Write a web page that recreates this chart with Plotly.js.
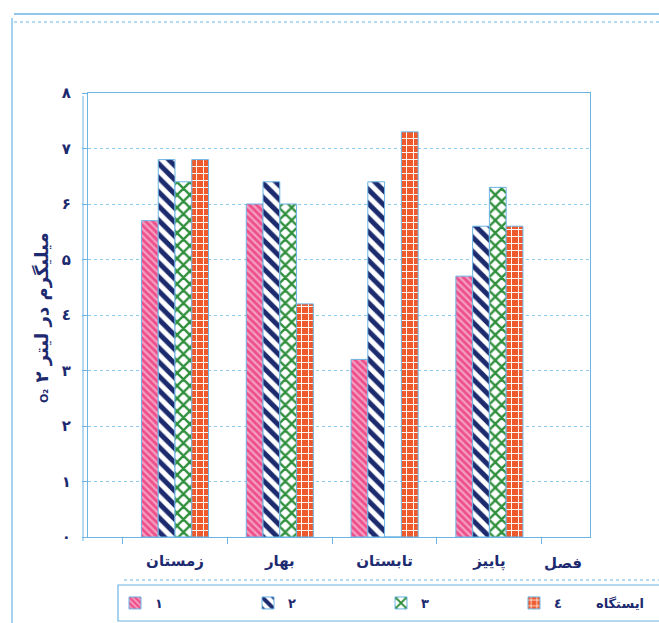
<!DOCTYPE html>
<html>
<head>
<meta charset="utf-8">
<script src="https://cdn.plot.ly/plotly-3.0.1.min.js"></script>
<style>
  html, body { margin: 0; padding: 0; background: #ffffff; }
  #chart { width: 659px; height: 623px; }
</style>
</head>
<body>
<div id="chart"></div>
<script>
// Seasons (category axis) and the four sampling stations
const seasons = ['زمستان', 'بهار', 'تابستان', 'پاییز'];
const stationNames = ['۱', '۲', '۳', '٤'];

// Dissolved oxygen, mg/L, per station and season
const station1 = [5.7, 6.0, 3.2, 4.7];
const station2 = [6.8, 6.4, 6.4, 5.6];
const station3 = [6.4, 6.0, 0, 6.3];
const station4 = [6.8, 4.2, 7.3, 5.6];

const yTickVals = [0, 1, 2, 3, 4, 5, 6, 7, 8];
const yTickText = ['۰', '۱', '۲', '۳', '٤', '۵', '۶', '۷', '۸'];

const ink = '#1d2a70';
const frameBlue = '#6cb4e4';
const gridBlue = '#8ccaee';
const faFont = 'DejaVu Sans, Noto Sans, sans-serif';

// pattern styles for each station
const styles = [
  { bg: '#f4a0c0', fg: '#ee4f8c', shape: '\\', size: 5, solidity: 0.55 },
  { bg: '#ffffff', fg: '#1c2b6e', shape: '\\', size: 10, solidity: 0.5 },
  { bg: '#ffffff', fg: '#2f8f3c', shape: 'x', size: 9, solidity: 0.45 },
  { bg: '#ef5a2c', fg: '#ffffff', shape: '+', size: 7, solidity: 0.25 }
];

const series = [station1, station2, station3, station4];
const traces = series.map((vals, i) => ({
  type: 'bar',
  x: seasons,
  y: vals,
  name: stationNames[i],
  marker: {
    color: styles[i].bg,
    line: { color: frameBlue, width: 1 },
    pattern: {
      shape: styles[i].shape,
      fgcolor: styles[i].fg,
      bgcolor: styles[i].bg,
      fgopacity: 1,
      size: styles[i].size,
      solidity: styles[i].solidity,
      fillmode: 'overlay'
    }
  },
  hoverinfo: 'x+y'
}));

// plot area in pixels: x 88..590, y 93..537
const W = 659, H = 623;
const L = 88, R = 590, T = 93, B = 537;
const px = v => (v - L) / (R - L);
const py = v => (B - v) / (B - T);

const layout = {
  width: W,
  height: H,
  margin: { l: L, r: W - R, t: T, b: H - B, autoexpand: false },
  paper_bgcolor: '#ffffff',
  plot_bgcolor: '#ffffff',
  barmode: 'group',
  bargap: 0.36,
  bargroupgap: 0,
  showlegend: true,
  legend: {
    orientation: 'h',
    x: px(647),
    xanchor: 'right',
    y: py(603),
    yanchor: 'middle',
    entrywidth: 88,
    entrywidthmode: 'pixels',
    font: { family: faFont, size: 13, color: ink, weight: 'bold' },
    bgcolor: 'rgba(0,0,0,0)',
    traceorder: 'normal'
  },
  xaxis: {
    type: 'category',
    range: [-0.83, 3.96],
    automargin: false,
    showline: true,
    linecolor: frameBlue,
    linewidth: 1,
    mirror: true,
    ticks: 'outside',
    tickson: 'boundaries',
    ticklen: 6,
    tickcolor: frameBlue,
    ticklabelstandoff: 10,
    tickfont: { family: faFont, size: 15, color: ink, weight: 'bold' },
    showgrid: false,
    fixedrange: true
  },
  yaxis: {
    range: [0, 8],
    automargin: false,
    tickvals: yTickVals,
    ticktext: yTickText,
    showline: true,
    linecolor: frameBlue,
    linewidth: 1,
    mirror: true,
    ticks: 'outside',
    ticklen: 5,
    tickcolor: frameBlue,
    ticklabelstandoff: 8,
    tickfont: { family: faFont, size: 15, color: ink, weight: 'bold' },
    showgrid: true,
    gridcolor: gridBlue,
    griddash: 'dot',
    gridwidth: 1,
    zeroline: false,
    fixedrange: true
  },
  annotations: [
    {
      xref: 'paper', yref: 'paper',
      x: px(42), y: py(318),
      xanchor: 'center', yanchor: 'middle',
      textangle: -90,
      showarrow: false,
      text: '<span style="font-size:11px">O₂</span> ۲ میلیگرم در لیتر',
      font: { family: faFont, size: 18, color: ink, weight: 'bold' }
    },
    {
      xref: 'paper', yref: 'paper',
      x: px(563), y: py(563),
      xanchor: 'center', yanchor: 'middle',
      showarrow: false,
      text: 'فصل',
      font: { family: faFont, size: 15, color: ink, weight: 'bold' }
    },
    {
      xref: 'paper', yref: 'paper',
      x: px(620), y: py(603),
      xanchor: 'center', yanchor: 'middle',
      showarrow: false,
      text: 'ایستگاه',
      font: { family: faFont, size: 13, color: ink, weight: 'bold' }
    }
  ],
  shapes: [
    // outer frame of the figure
    { type: 'line', xref: 'paper', yref: 'paper', x0: px(14), x1: px(680), y0: py(14), y1: py(14),
      line: { color: frameBlue, width: 1.5 } },
    { type: 'line', xref: 'paper', yref: 'paper', x0: px(14), x1: px(680), y0: py(22), y1: py(22),
      line: { color: frameBlue, width: 1, dash: 'dot' } },
    { type: 'line', xref: 'paper', yref: 'paper', x0: px(12), x1: px(12), y0: py(18), y1: py(640),
      line: { color: frameBlue, width: 1.2 } },
    // side wall edge of the plot
    { type: 'line', xref: 'paper', yref: 'paper', x0: px(83), x1: px(83), y0: py(96), y1: py(541),
      line: { color: frameBlue, width: 1 } },
    // legend box
    { type: 'rect', xref: 'paper', yref: 'paper', x0: px(118), x1: px(680), y0: py(585), y1: py(621),
      line: { color: frameBlue, width: 1.2 } },
    { type: 'line', xref: 'paper', yref: 'paper', x0: px(124), x1: px(680), y0: py(580), y1: py(580),
      line: { color: frameBlue, width: 1, dash: 'dot' } }
  ]
};

Plotly.newPlot('chart', traces, layout, { displayModeBar: false, staticPlot: true });
</script>
</body>
</html>
